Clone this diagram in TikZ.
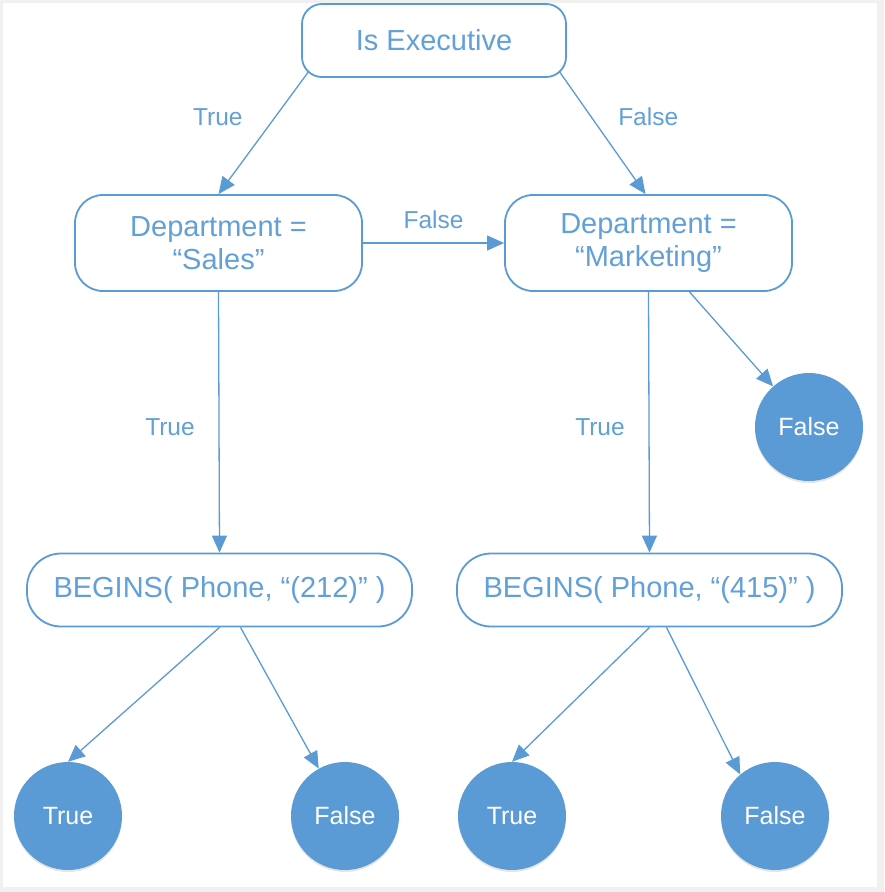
\documentclass[tikz,border=0pt]{standalone}
\usepackage{fontspec}
\setmainfont{Liberation Sans}
\usetikzlibrary{arrows.meta,shadows}
\definecolor{lineblue}{RGB}{91,155,213}
\definecolor{textblue}{RGB}{98,160,216}
\definecolor{framegray}{RGB}{240,240,240}

\begin{document}
\begin{tikzpicture}[x=1pt, y=-1pt,
                    cond/.style = {draw=lineblue, line width=1.8pt, inner sep=0pt, align=center, text=textblue, font=\fontsize{29}{33}\selectfont},
                    leaf/.style = {circle, fill=lineblue, minimum size=108pt, inner sep=0pt, text=white, font=\fontsize{25}{30}\selectfont, drop shadow={opacity=0.2, shadow xshift=0pt, shadow yshift=-2pt}},
                    lbl/.style = {text=textblue, font=\fontsize{24.5}{29}\selectfont},
                    link/.style = {draw=lineblue, line width=1.3pt, -{Triangle[length=17pt, width=15pt]}}
                ]
                    \fill[framegray] (0,0) rectangle (884,892);
                    \fill[white] (3,3) rectangle (877,887);

                    \node[cond, rounded corners=20pt, minimum width=264pt, minimum height=73pt] (exec) at (434,40.5) {Is Executive};
                    \node[cond, rounded corners=28pt, minimum width=287pt, minimum height=96pt] (sales) at (218.5,243) {Department =\\“Sales”};
                    \node[cond, rounded corners=28pt, minimum width=287pt, minimum height=96pt] (mkt) at (648.5,243) {Department =\\“Marketing”};
                    \node[cond, rounded corners=34pt, minimum width=385pt, minimum height=73pt] (beg1) at (219.5,590) {BEGINS( Phone, “(212)” )};
                    \node[cond, rounded corners=34pt, minimum width=385pt, minimum height=73pt] (beg2) at (649.5,590) {BEGINS( Phone, “(415)” )};

                    \node[leaf] (f0) at (809,427) {False};
                    \node[leaf] (t1) at (68,816) {True};
                    \node[leaf] (f1) at (345,816) {False};
                    \node[leaf] (t2) at (512,816) {True};
                    \node[leaf] (f2) at (775,816) {False};

                    \draw[link] ([xshift=8pt, yshift=7pt]exec.south west) -- node[lbl, midway, xshift=-46pt, yshift=15.5pt] {True} (sales.north);
                    \draw[link] ([xshift=-8pt, yshift=7pt]exec.south east) -- node[lbl, midway, xshift=46pt, yshift=15.5pt] {False} ([xshift=-3pt]mkt.north);
                    \draw[link] (sales.east) -- node[lbl, midway, yshift=23pt] {False} (mkt.west);
                    \draw[link] (sales.south) -- node[lbl, midway, xshift=-49pt, yshift=-4.5pt] {True} (beg1.north);
                    \draw[link] (mkt.south) -- node[lbl, midway, xshift=-49pt, yshift=-4.5pt] {True} (beg2.north);
                    \draw[link] ([xshift=41pt]mkt.south) -- (f0);
                    \draw[link] (beg1.south) -- (t1.north);
                    \draw[link] ([xshift=21pt]beg1.south) -- (f1);
                    \draw[link] (beg2.south) -- (t2.north);
                    \draw[link] ([xshift=17pt]beg2.south) -- (f2.130);
                \end{tikzpicture}
\end{document}
